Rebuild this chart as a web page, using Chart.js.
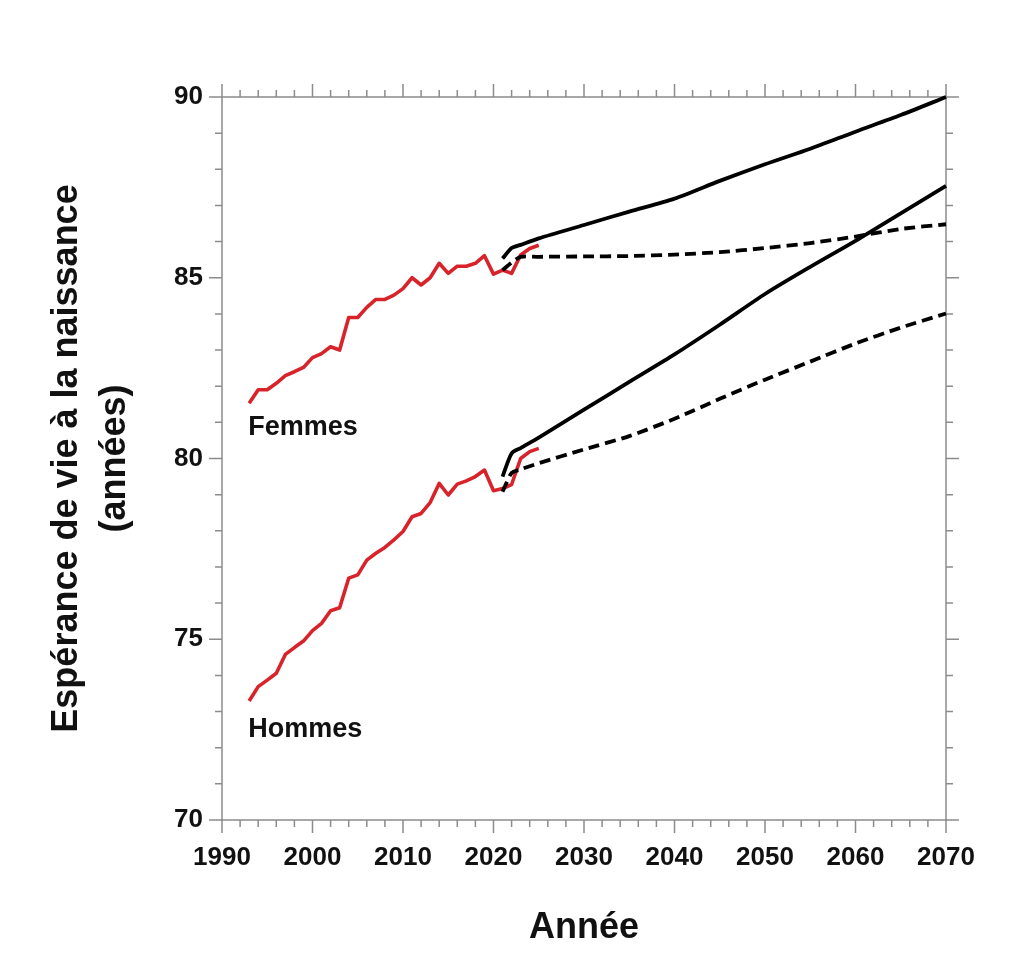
<!DOCTYPE html>
<html>
<head>
<meta charset="utf-8">
<script src="https://cdn.jsdelivr.net/npm/chart.js@4.4.1/dist/chart.umd.min.js"></script>
<style>
  html, body { margin: 0; background: #fff; }
  #wrap { width: 1024px; height: 971px; }
</style>
</head>
<body>
<div id="wrap"><canvas id="chart"></canvas></div>
<script>
// observed values (red)
const histYears = [1993, 1994, 1995, 1996, 1997, 1998, 1999, 2000, 2001, 2002, 2003, 2004, 2005,
  2006, 2007, 2008, 2009, 2010, 2011, 2012, 2013, 2014, 2015, 2016, 2017, 2018, 2019, 2020,
  2021, 2022, 2023, 2024, 2025];
const femmesObs = [81.53, 81.9, 81.9, 82.08, 82.29, 82.4, 82.52, 82.79, 82.9, 83.09, 83.0, 83.9, 83.9,
  84.18, 84.4, 84.4, 84.52, 84.7, 85.0, 84.8, 85.0, 85.4, 85.12, 85.32, 85.32, 85.4, 85.61, 85.1,
  85.21, 85.12, 85.63, 85.81, 85.9];
const hommesObs = [73.29, 73.69, 73.87, 74.06, 74.58, 74.77, 74.95, 75.24, 75.44, 75.79, 75.87, 76.69, 76.78,
  77.19, 77.38, 77.54, 77.75, 77.98, 78.39, 78.48, 78.78, 79.31, 78.99, 79.29, 79.38, 79.5, 79.68, 79.11,
  79.17, 79.28, 80.0, 80.19, 80.28];

// projections (black): solid and dashed
const projYears = [2021, 2022, 2023, 2025, 2030, 2035, 2040, 2045, 2050, 2055, 2060, 2065, 2070];
const femmesSolid = [85.53, 85.82, 85.91, 86.09, 86.46, 86.83, 87.19, 87.68, 88.14, 88.57, 89.04, 89.5, 90.0];
const femmesDash = [85.21, 85.42, 85.58, 85.58, 85.59, 85.6, 85.64, 85.71, 85.82, 85.96, 86.14, 86.35, 86.48];
const hommesSolid = [79.5, 80.14, 80.29, 80.58, 81.35, 82.12, 82.88, 83.7, 84.55, 85.3, 86.02, 86.78, 87.54];
const hommesDash = [79.08, 79.6, 79.7, 79.87, 80.25, 80.62, 81.1, 81.65, 82.18, 82.68, 83.18, 83.62, 84.01];

const xTicks = [1990, 2000, 2010, 2020, 2030, 2040, 2050, 2060, 2070];
const yTicks = [70, 75, 80, 85, 90];

const RED = '#d8232a';
const FONT = 'Liberation Sans, Arial, sans-serif';

function pts(xs, ys) {
  return xs.map((x, i) => ({ x: x, y: ys[i] }));
}

function line(data, color, width, dash, tension) {
  return {
    data: data,
    borderColor: color,
    borderWidth: width,
    borderDash: dash || [],
    pointRadius: 0,
    tension: tension || 0,
    borderJoinStyle: 'round',
    fill: false,
    clip: 6
  };
}

// axis frame with outward ticks on all four sides
const frame = {
  id: 'frame',
  beforeDatasetsDraw(chart) {
    const { ctx, chartArea: a, scales: { x, y } } = chart;
    ctx.save();
    ctx.strokeStyle = '#8c8c8c';
    ctx.lineWidth = 1.5;
    ctx.beginPath();
    ctx.rect(a.left, a.top, a.right - a.left, a.bottom - a.top);
    for (let v = 1990; v <= 2070; v += 2) {
      const px = x.getPixelForValue(v);
      const len = (v - 1990) % 10 === 0 ? 13 : 7;
      ctx.moveTo(px, a.bottom); ctx.lineTo(px, a.bottom + len);
      ctx.moveTo(px, a.top); ctx.lineTo(px, a.top - len);
    }
    for (let v = 70; v <= 90; v += 1) {
      const py = y.getPixelForValue(v);
      const len = v % 5 === 0 ? 13 : 7;
      ctx.moveTo(a.left, py); ctx.lineTo(a.left - len, py);
      ctx.moveTo(a.right, py); ctx.lineTo(a.right + len, py);
    }
    ctx.stroke();
    ctx.restore();
  },
  afterDraw(chart) {
    const { ctx, scales: { x, y } } = chart;
    ctx.save();
    ctx.fillStyle = '#111';
    ctx.font = 'bold 27px ' + FONT;
    ctx.textAlign = 'left';
    ctx.textBaseline = 'middle';
    ctx.fillText('Femmes', x.getPixelForValue(1992.9), y.getPixelForValue(80.87));
    ctx.fillText('Hommes', x.getPixelForValue(1992.9), y.getPixelForValue(72.49));
    ctx.restore();
  }
};

new Chart(document.getElementById('chart'), {
  type: 'line',
  data: {
    datasets: [
      line(pts(projYears, femmesSolid), '#000', 3.8, null, 0.25),
      line(pts(projYears, femmesDash), '#000', 3.8, [11, 6], 0.25),
      line(pts(projYears, hommesSolid), '#000', 3.8, null, 0.25),
      line(pts(projYears, hommesDash), '#000', 3.8, [11, 6], 0.25),
      line(pts(histYears, femmesObs), RED, 3.6),
      line(pts(histYears, hommesObs), RED, 3.6)
    ]
  },
  options: {
    responsive: true,
    maintainAspectRatio: false,
    animation: false,
    devicePixelRatio: 1,
    layout: { padding: { left: 0, top: 97, right: 78, bottom: 0 } },
    plugins: { legend: { display: false }, tooltip: { enabled: false } },
    scales: {
      x: {
        type: 'linear',
        min: 1990,
        max: 2070,
        afterFit(s) { s.height = 151; },
        afterBuildTicks(s) { s.ticks = xTicks.map(v => ({ value: v })); },
        grid: { display: false, drawTicks: false },
        border: { display: false },
        ticks: {
          padding: 22,
          color: '#111',
          font: { family: FONT, size: 26, weight: 'bold' },
          maxRotation: 0,
          callback: v => String(v)
        },
        title: {
          display: true,
          text: 'Année',
          color: '#111',
          font: { family: FONT, size: 36, weight: 'bold' },
          padding: { bottom: 21 }
        }
      },
      y: {
        type: 'linear',
        min: 70,
        max: 90,
        afterFit(s) { s.width = 222; },
        afterBuildTicks(s) { s.ticks = yTicks.map(v => ({ value: v })); },
        grid: { display: false, drawTicks: false },
        border: { display: false },
        ticks: {
          padding: 19,
          color: '#111',
          font: { family: FONT, size: 26, weight: 'bold' }
        },
        title: {
          display: true,
          text: ['Espérance de vie à la naissance', '(années)'],
          color: '#111',
          font: { family: FONT, size: 36, weight: 'bold', lineHeight: 1.33 },
          padding: { top: 43 }
        }
      }
    }
  },
  plugins: [frame]
});
</script>
</body>
</html>
